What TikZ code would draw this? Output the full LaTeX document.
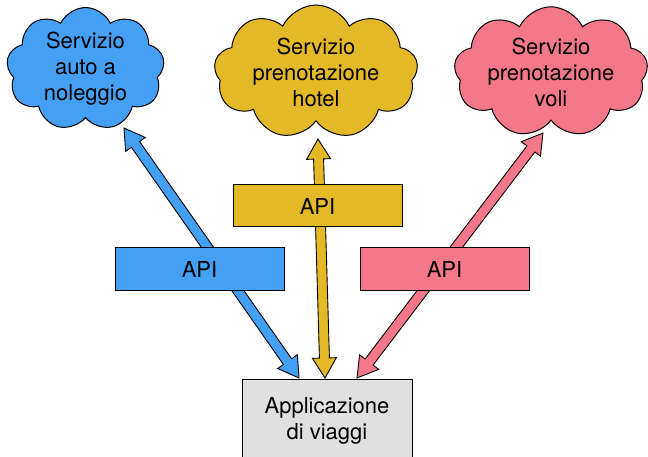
\documentclass[tikz,border=0pt]{standalone}
\usepackage{fontspec}
\setmainfont{TeX Gyre Heros}
\usetikzlibrary{shapes.symbols,calc}
\definecolor{cblue}{RGB}{68,160,245}
\definecolor{cyellow}{RGB}{228,185,40}
\definecolor{cred}{RGB}{245,120,138}
\definecolor{cgray}{RGB}{224,224,224}
\tikzset{
  svc/.style={cloud, cloud puffs=9, cloud puff arc=130, cloud ignores aspect,
    draw=black, line width=1pt, align=center, inner sep=0pt,
    font=\fontsize{22}{26}\selectfont},
  apibox/.style={draw=black, line width=1pt, minimum width=169pt, minimum height=42pt,
    inner sep=0pt, font=\fontsize{22}{26}\selectfont},
  appbox/.style={draw=black, line width=1pt, fill=cgray, minimum width=170pt,
    minimum height=84pt, align=center, inner sep=0pt, font=\fontsize{22}{26}\selectfont},
}
\newcommand\blockarrow[3]{%
  \draw[fill=#3, line width=0.9pt, line join=miter]
    let \p1=($(#2)-(#1)$), \n1={veclen(\x1,\y1)}, \n2={atan2(\y1,\x1)} in
    [shift={(#1)}, rotate=\n2]
    (0pt,0pt) -- (20pt,12pt) -- (20pt,5pt) -- ({(\n1-20)*1pt},5pt) -- ({(\n1-20)*1pt},12pt)
    -- ({\n1*1pt},0pt) -- ({(\n1-20)*1pt},-12pt) -- ({(\n1-20)*1pt},-5pt)
    -- (20pt,-5pt) -- (20pt,-12pt) -- cycle;}
\begin{document}
\begin{tikzpicture}[x=1pt,y=-1pt]
\useasboundingbox (0,0) rectangle (648,457);
\clip (0,0) rectangle (648,457);
% clouds
\node[svc, fill=cblue, minimum width=158pt, minimum height=122pt] (car) at (85.5,69) {Servizio\\auto a\\noleggio};
\node[svc, fill=cyellow, minimum width=204pt, minimum height=134pt] (hotel) at (316,72) {Servizio\\prenotazione\\hotel};
\node[svc, fill=cred, minimum width=194pt, minimum height=122pt] (fly) at (551,72) {Servizio\\prenotazione\\voli};
% application
\node[appbox] (app) at (327,421) {Applicazione\\di viaggi};
% arrow tips
\coordinate (bT) at (124,128);
\coordinate (bB) at (299,378);
\coordinate (yT) at (318,139);
\coordinate (yB) at (325,378);
\coordinate (rT) at (543,133);
\coordinate (rB) at (357,378);
\blockarrow{bB}{bT}{cblue}
\blockarrow{yB}{yT}{cyellow}
\blockarrow{rB}{rT}{cred}
% API boxes
\node[apibox, fill=cblue] (api1) at (199.5,269) {API};
\node[apibox, fill=cyellow] (api2) at (317.5,206) {API};
\node[apibox, fill=cred] (api3) at (444.5,269) {API};
\end{tikzpicture}
\end{document}
